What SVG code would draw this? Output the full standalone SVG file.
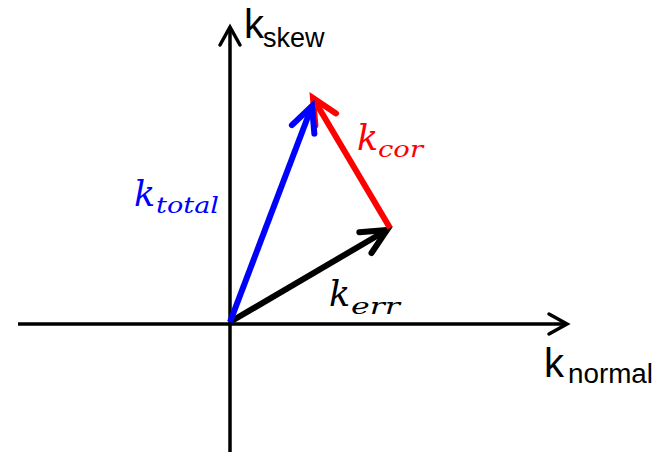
<svg xmlns="http://www.w3.org/2000/svg" width="656" height="452" viewBox="0 0 656 452">
<style>
.ax{stroke:#000;stroke-width:3.5;fill:none;stroke-linecap:butt}
.axh{stroke:#000;stroke-width:3.5;fill:none;stroke-linecap:round;stroke-linejoin:miter}
.vec{stroke-width:6;fill:none;stroke-linecap:butt}
.lab{font-family:"Liberation Sans",Arial,sans-serif;fill:#000}
.m{font-family:"DejaVu Serif",serif;font-style:italic}
</style>
<defs>
<marker id="hk" markerUnits="userSpaceOnUse" orient="auto" markerWidth="40" markerHeight="40" refX="0" refY="0" viewBox="-34 -20 40 40" overflow="visible">
<path d="M-25,-12 L0,0 L-25,12" fill="none" stroke="#000" stroke-width="6" stroke-linecap="round" stroke-linejoin="miter"/>
</marker>
<marker id="hr" markerUnits="userSpaceOnUse" orient="auto" markerWidth="40" markerHeight="40" refX="0" refY="0" viewBox="-34 -20 40 40" overflow="visible">
<path d="M-25,-12 L0,0 L-25,12" fill="none" stroke="#ff0000" stroke-width="6" stroke-linecap="round" stroke-linejoin="miter"/>
</marker>
<marker id="hb" markerUnits="userSpaceOnUse" orient="auto" markerWidth="40" markerHeight="40" refX="0" refY="0" viewBox="-34 -20 40 40" overflow="visible">
<path d="M-25,-12 L0,0 L-25,12" fill="none" stroke="#0000ff" stroke-width="6" stroke-linecap="round" stroke-linejoin="miter"/>
</marker>
</defs>
<g id="connectors">
<g id="axis-y">
<line class="ax" x1="230" y1="452" x2="230" y2="29"/>
<polyline class="axh" points="220,45 230,27 240,45"/>
</g>
<g id="axis-x">
<line class="ax" x1="18" y1="324" x2="565" y2="324"/>
<polyline class="axh" points="549,314 567,324 549,334"/>
</g>
<line id="v-err" class="vec" stroke="#000" x1="230" y1="322" x2="387" y2="230" marker-end="url(#hk)"/>
<line id="v-cor" class="vec" stroke="#ff0000" x1="390" y1="228" x2="313" y2="98" marker-end="url(#hr)"/>
<line id="v-total" class="vec" stroke="#0000ff" x1="230" y1="322" x2="312" y2="106" marker-end="url(#hb)"/>
</g>
<g id="label-skew" class="lab">
<text x="244" y="38" font-size="40">k</text>
<text x="263" y="47" font-size="27">skew</text>
</g>
<g id="label-normal" class="lab">
<text x="544" y="377" font-size="40">k</text>
<text x="568" y="383" font-size="27" textLength="85" lengthAdjust="spacingAndGlyphs">normal</text>
</g>
<g id="label-total" class="m" fill="#0000ff">
<text x="134" y="206" font-size="35">k</text>
<text x="156" y="213" font-size="22" textLength="63" lengthAdjust="spacingAndGlyphs">total</text>
</g>
<g id="label-cor" class="m" fill="#ff0000">
<text x="357" y="150" font-size="35">k</text>
<text x="378" y="157" font-size="22" textLength="45" lengthAdjust="spacingAndGlyphs">cor</text>
</g>
<g id="label-err" class="m" fill="#000">
<text x="329" y="306" font-size="35">k</text>
<text x="351" y="314" font-size="22" textLength="49" lengthAdjust="spacingAndGlyphs">err</text>
</g>
</svg>
